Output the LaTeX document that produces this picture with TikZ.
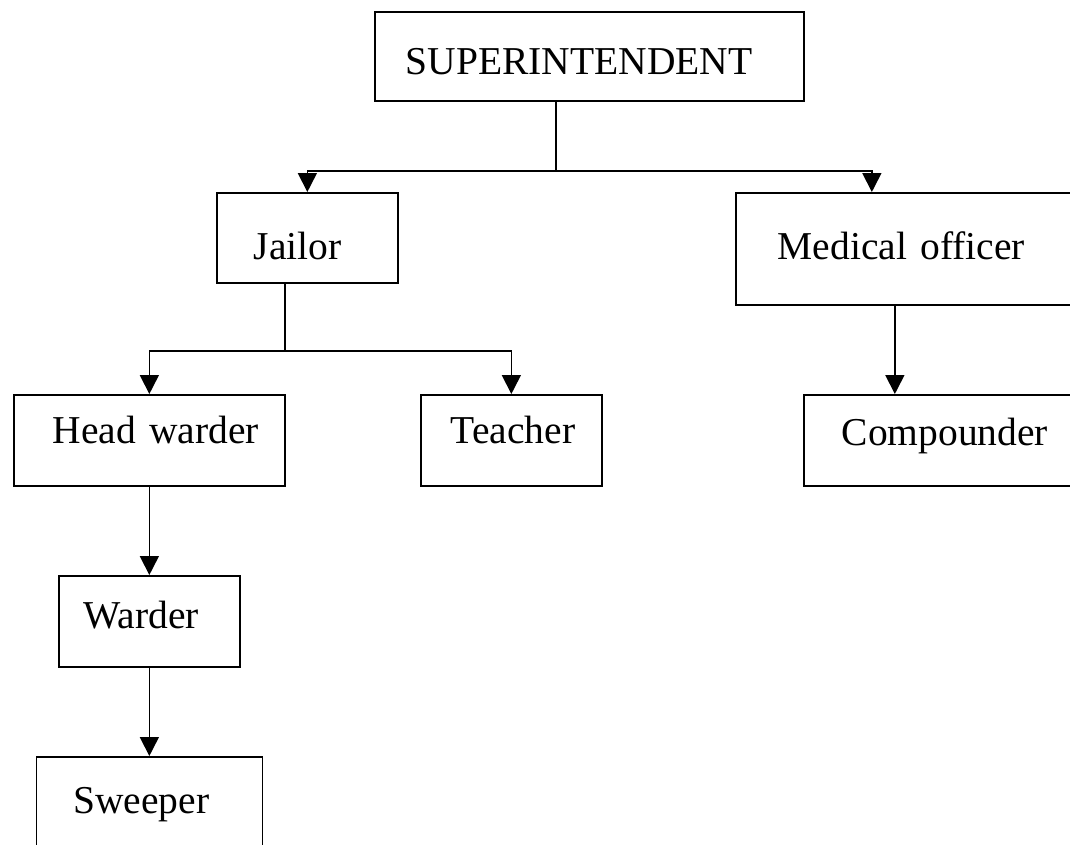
\documentclass[tikz,border=0pt]{standalone}
\usepackage{fontspec}
\setmainfont{Liberation Serif}
\usetikzlibrary{arrows.meta}

\tikzset{
  box/.style={draw=black, rectangle, anchor=north west, inner sep=0pt, align=left,
    font=\fontsize{39.5}{47}\selectfont},
}

\begin{document}
\begin{tikzpicture}[x=1pt, y=-1pt, line width=1.7pt, >={Triangle[length=19pt,width=19pt]}]

		\clip (0,0) rectangle (1070,844);

		% the head of the prison
		\node[box, text width=429pt, text height=63pt, text depth=26pt] (super) at (374,11) {\hspace*{31pt}SUPERINTENDENT};

		% second level
		\node[box, text width=181pt, text height=67pt, text depth=23pt] (jailor) at (216,192) {\hspace*{37pt}Jailor};
		\node[box, text width=350pt, text height=67pt, text depth=45pt] (medical) at (735,192) {\hspace*{42pt}Medical officer};

		% third level
		\node[box, text width=271pt, text height=49pt, text depth=42pt] (head) at (13,394) {\hspace*{39pt}Head warder};
		\node[box, text width=181pt, text height=49pt, text depth=42pt] (teacher) at (420,394) {\hspace*{30pt}Teacher};
		\node[box, text width=280pt, text height=51pt, text depth=40pt] (compounder) at (803,394) {\hspace*{38pt}Compounder};

		% the warders
		\node[box, text width=181pt, text height=53pt, text depth=38pt] (warder) at (58,575) {\hspace*{25pt}Warder};
		\node[box, text width=226pt, text height=57pt, text depth=57pt] (sweeper) at (35.5,756) {\hspace*{37pt}Sweeper};

		% superintendent to jailor and medical officer
		\draw ([xshift=-33.5pt]super.south) -- ++(0,69) coordinate (topbus);
		\draw[->] (topbus) -| (jailor.north);
		\draw[->] (topbus) -| ([xshift=-39pt]medical.north);

		% jailor to head warder and teacher
		\draw ([xshift=-22.5pt]jailor.south) -- ++(0,67) coordinate (midbus);
		\draw[->] (midbus) -| (head.north);
		\draw[->] (midbus) -| (teacher.north);

		% medical officer to compounder
		\draw[->] ([xshift=-16pt]medical.south) -- ([xshift=-16pt]medical.south |- compounder.north);

		% down the warder line
		\draw[->] (head.south) -- (warder.north);
		\draw[->] (warder.south) -- (sweeper.north);

	\end{tikzpicture}
\end{document}
